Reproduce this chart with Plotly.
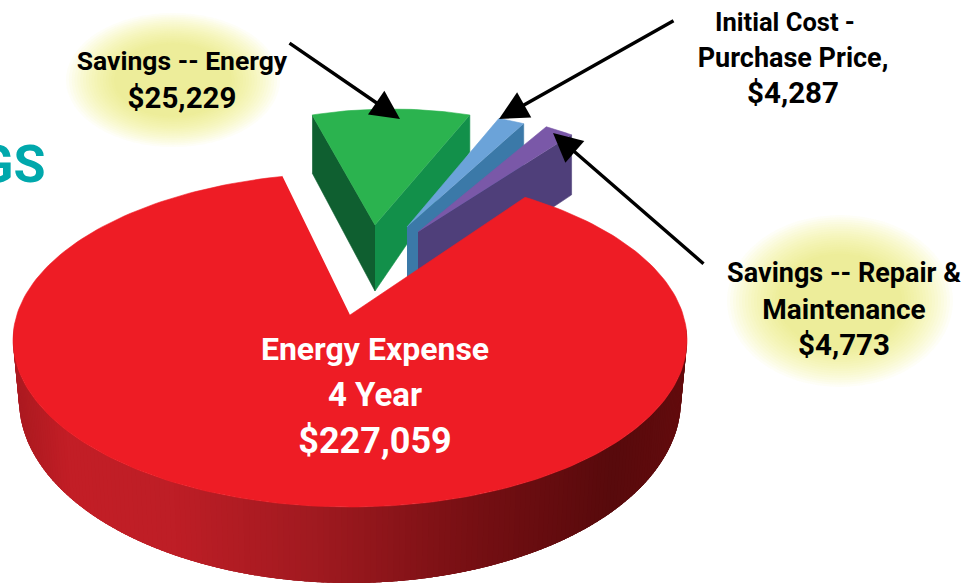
import numpy as np
import plotly.graph_objects as go

# ---- data -------------------------------------------------------------
categories = ["Energy Expense 4 Year", "Savings -- Energy",
              "Initial Cost - Purchase Price", "Savings -- Repair & Maintenance"]
amounts = [227059, 25229, 4287, 4773]
total = sum(amounts)
spans = [360.0 * a / total for a in amounts]

# ---- picture geometry ---------------------------------------------------
W, H = 975, 583
FONT = "Roboto"

def ell(cx, cy, rx, ry, t):
    t = np.radians(t)
    return cx + rx * np.sin(t), cy - ry * np.cos(t)

fig = go.Figure()

def poly(xs, ys, color, name=None, lw=0.6):
    fig.add_trace(go.Scatter(
        x=list(xs), y=list(ys), mode="lines", fill="toself", fillcolor=color,
        line=dict(color=color, width=lw), hoverinfo="text" if name else "skip",
        text=name, showlegend=False))

def slice3d(value_span, mid, cx, cy, rx, ry, apex, d_left, d_apex, d_right,
            top, right_wall, left_wall=None, name=None):
    ts = np.linspace(mid - value_span / 2, mid + value_span / 2, 30)
    ax, ay = ell(cx, cy, rx, ry, ts)
    px, py = apex
    if left_wall:
        poly([ax[0], px, px, ax[0]], [ay[0], py, py + d_apex, ay[0] + d_left], left_wall)
    poly([px, ax[-1], ax[-1], px], [py, ay[-1], ay[-1] + d_right, py + d_apex], right_wall)
    poly([px, *ax], [py, *ay], top, name)

# the three pulled-out slices (back to front)
slice3d(spans[1], 0.0, 391, 240, 264, 131, (375, 225), 58, 66, 37,
        "#2bb34f", "#12904a", "#0f5f30", name=categories[1])
slice3d(spans[2], 23.5, 407, 241, 262, 131, (407, 227), 50, 62, 50,
        "#6ba3d9", "#3b79a8", name=categories[2])
slice3d(spans[3], 32.6, 418, 241, 262, 131, (418, 232), 60, 65, 60,
        "#7a58a8", "#4f3f7a", name=categories[3])

# red body: side wall with a left-to-right shade, then top face
RCX, RCY, RRX, RRY = 350, 340, 337, 167
BCX, BCY, BRX, BRY = 350, 400, 331, 183
APEX = (350, 315)
stops_x = [12, 60, 160, 300, 450, 600, 687]
stops_r = [170, 195, 190, 160, 120, 88, 100]
stops_g = [26, 30, 30, 26, 16, 10, 12]
stops_b = [32, 38, 38, 32, 20, 12, 14]
tt = np.linspace(86, 274, 189)
for a, b in zip(tt[:-1], tt[1:]):
    seg = np.linspace(a - 2.5 if a > 88 else a, b, 6)
    x1, y1 = ell(RCX, RCY, RRX, RRY, seg)
    x2, y2 = ell(BCX, BCY, BRX, BRY, seg[::-1])
    xm = (x1[-1] + x2[0]) / 2
    c = "rgb(%d,%d,%d)" % (np.interp(xm, stops_x, stops_r),
                           np.interp(xm, stops_x, stops_g),
                           np.interp(xm, stops_x, stops_b))
    poly([*x1, *x2], [*y1, *y2], c, lw=0)

GAP_FORESHORTEN = 0.907       # the far side of the pie is squeezed by perspective
gap = (360 - spans[0]) * GAP_FORESHORTEN
ts = np.linspace(31.3, 31.3 + 360 - gap, 240)
rx_, ry_ = ell(RCX, RCY, RRX, RRY, ts)
poly([APEX[0], *rx_], [APEX[1], *ry_], "#ee1c25", categories[0])

# ---- soft yellow glows ----------------------------------------------------
def glow(cx, cy, rx, ry):
    n = 18
    for i in range(n):
        f = 1 - 0.45 * i / (n - 1)
        fig.add_shape(type="circle", xref="x", yref="y", layer="below",
                      x0=cx - rx * f, x1=cx + rx * f, y0=cy - ry * f, y1=cy + ry * f,
                      fillcolor="rgba(232,234,100,0.052)", line_width=0)

glow(173, 80, 107, 67)
glow(840, 301, 113, 86)

# ---- arrows -----------------------------------------------------------------
arrow_tails = [(288, 42), (675, 20), (705, 265)]
arrow_tips = [(400, 119), (499, 119), (553, 133)]
for (tx, ty), (hx, hy) in zip(arrow_tails, arrow_tips):
    fig.add_annotation(x=hx, y=hy, ax=tx, ay=ty, xref="x", yref="y", axref="x", ayref="y",
                       text="", showarrow=True, arrowhead=2, arrowsize=1.7,
                       arrowwidth=3.4, arrowcolor="#000000")

# ---- text -----------------------------------------------------------------------
lines_black = ["Savings -- Energy", "$25,229", "Initial Cost -", "Purchase Price,", "$4,287",
               "Savings -- Repair &", "Maintenance", "$4,773"]
pos_black = [(182, 63), (182, 101), (785, 25), (793, 60), (793, 96),
             (844, 275), (844, 312), (844, 348)]
size_black = [26.5, 29.5, 25.5, 27, 29.5, 27, 28, 29.5]
fig.add_trace(go.Scatter(
    x=[p[0] for p in pos_black], y=[p[1] for p in pos_black], text=lines_black,
    mode="text", textposition="middle center", hoverinfo="skip", showlegend=False,
    textfont=dict(family=FONT, size=size_black, color="#000000", weight="bold")))

lines_white = ["Energy Expense", "4 Year", "$227,059"]
pos_white = [(375, 352), (375, 398), (375, 444)]
size_white = [32, 33, 36]
fig.add_trace(go.Scatter(
    x=[p[0] for p in pos_white], y=[p[1] for p in pos_white], text=lines_white,
    mode="text", textposition="middle center", hoverinfo="skip", showlegend=False,
    textfont=dict(family=FONT, size=size_white, color="#ffffff", weight="bold")))

fig.add_annotation(x=47, y=164, xref="x", yref="y", xanchor="right", yanchor="middle",
                   text="<b>GS</b>", showarrow=False,
                   font=dict(family=FONT, size=52, color="#00a8ac"))

fig.update_layout(
    width=W, height=H, margin=dict(l=0, r=0, t=0, b=0),
    paper_bgcolor="#ffffff", plot_bgcolor="#ffffff", showlegend=False,
    xaxis=dict(range=[0, W], visible=False, fixedrange=True),
    yaxis=dict(range=[H, 0], visible=False, fixedrange=True))
fig.write_html("out.html", config={"displayModeBar": False},
               post_script="document.body.style.margin='0';")
